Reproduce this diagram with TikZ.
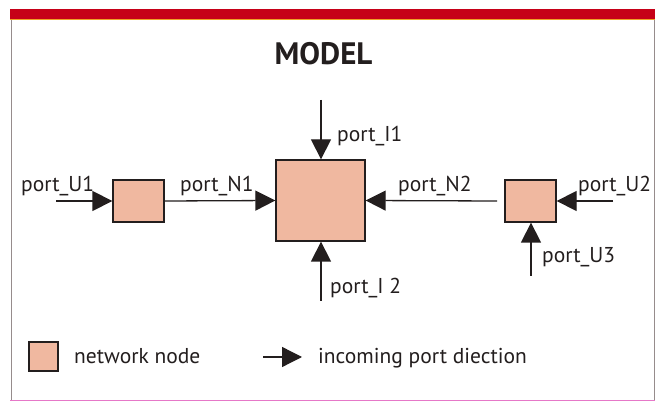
\documentclass[tikz,border=0pt]{standalone}
\usepackage{fontspec}
\setmainfont{PT Sans}
\usetikzlibrary{arrows.meta}
\definecolor{boxfill}{RGB}{240,184,160}
\definecolor{barred}{RGB}{198,0,24}
\definecolor{barorange}{RGB}{240,160,40}
\definecolor{framegrey}{RGB}{150,140,140}
\definecolor{framepink}{RGB}{230,120,200}
\definecolor{ink}{RGB}{35,30,30}
\begin{document}
\begin{tikzpicture}[x=1pt,y=-1pt,
  netnode/.style={draw=ink,line width=1.3pt,fill=boxfill,inner sep=0pt,minimum width=#1,minimum height=#1},
  smallnode/.style={netnode=0pt,minimum width=51pt,minimum height=42pt},
  bignode/.style={netnode=0pt,minimum width=89pt,minimum height=81pt},
  inport/.style={draw=ink,line width=1.3pt,-{Triangle[length=20pt,width=20pt]}},
  lbl/.style={anchor=base west,inner sep=0pt,text=ink,font=\fontsize{21.5}{24}\selectfont},
]
\useasboundingbox (0,0) rectangle (659,403);
% frame
\fill[white] (10,9) rectangle (655,401);
\draw[framegrey,line width=1pt] (11,19) -- (11,400);
\draw[framegrey,line width=1pt] (654,19) -- (654,400);
\draw[framepink,line width=1pt] (10,400.5) -- (655,400.5);
\fill[barred] (10,9) rectangle (655,19);
\draw[barorange,line width=0.6pt] (10,19.3) -- (655,19.3);
% title
\node[anchor=base,inner sep=0pt,text=ink,font=\fontsize{31}{33}\selectfont\bfseries] (title) at (323.5,65) {MODEL};
% nodes
\node[smallnode] (u1) at (138.5,201) {};
\node[bignode] (big) at (320.5,200.5) {};
\node[smallnode] (u2) at (530.5,201) {};
% free ends
\coordinate (u1in) at (56,201);
\coordinate (n2in) at (497,201);
\coordinate (u2in) at (613,201);
\coordinate (u3in) at (531,276);
\coordinate (i1in) at (321,100);
\coordinate (i2in) at (321,301);
% connectors
\draw[inport] (u1in) -- (u1.west);
\draw[inport] (u1.east) -- (big.west);
\draw[inport] (n2in) -- (big.east);
\draw[inport] (u2in) -- (u2.east);
\draw[inport] (u3in) -- (u3in |- u2.south);
\draw[inport] (i1in) -- (i1in |- big.north);
\draw[inport] (i2in) -- (i2in |- big.south);
% labels
\node[lbl] (lu1) at (21,192) {port\_U1};
\node[lbl] (ln1) at (180,192) {port\_N1};
\node[lbl] (li1) at (337,142) {port\_I1};
\node[lbl] (ln2) at (398,192) {port\_N2};
\node[lbl] (lu2) at (578,192) {port\_U2};
\node[lbl] (lu3) at (542,263) {port\_U3};
\node[lbl] (li2) at (330,294) {port\_I 2};
% legend
\node[netnode=0pt,minimum width=29pt,minimum height=29pt] (legbox) at (43.5,356.5) {};
\node[lbl] (legnode) at (74,363) {network node};
\coordinate (legstart) at (263,357);
\coordinate (legtip) at (302,357);
\draw[inport] (legstart) -- (legtip);
\node[lbl] (legarrow) at (318,363) {incoming port diection};
\end{tikzpicture}
\end{document}
